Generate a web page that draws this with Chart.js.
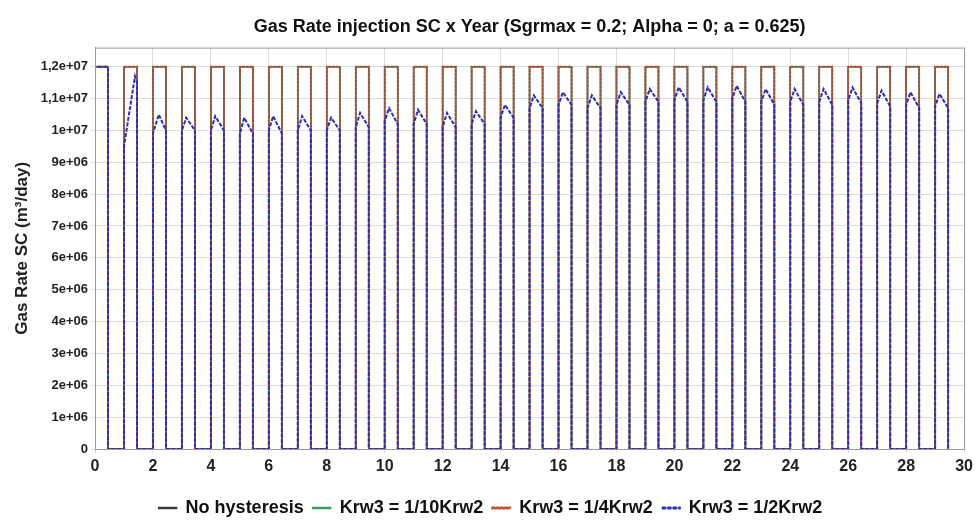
<!DOCTYPE html>
<html>
<head>
<meta charset="utf-8">
<script src="https://cdn.jsdelivr.net/npm/chart.js@4.4.1/dist/chart.umd.min.js"></script>
<style>
  html, body { margin: 0; padding: 0; background: #fff; }
  #wrap { width: 977px; height: 527px; }
</style>
</head>
<body>
<div id="wrap"><canvas id="gasChart" width="977" height="527"></canvas></div>
<script>
// Injection cycles (years): gas on at onYear, off at offYear
const onYear  = [0, 1, 2, 3, 4, 5, 6, 7, 8, 9, 10, 11, 12, 13, 14, 15, 16, 17, 18, 19, 20, 21, 22, 23, 24, 25, 26, 27, 28, 29];
const offYear = [0.45, 1.45, 2.45, 3.45, 4.45, 5.45, 6.45, 7.45, 8.45, 9.45, 10.45, 11.45, 12.45, 13.45, 14.45,
                 15.45, 16.45, 17.45, 18.45, 19.45, 20.45, 21.45, 22.45, 23.45, 24.45, 25.45, 26.45, 27.45, 28.45, 29.45];

// No hysteresis, 1/10 and 1/4 runs stay at the injection limit every cycle
const limitRate = [12e6, 12e6, 12e6, 12e6, 12e6, 12e6, 12e6, 12e6, 12e6, 12e6, 12e6, 12e6, 12e6, 12e6, 12e6,
                   12e6, 12e6, 12e6, 12e6, 12e6, 12e6, 12e6, 12e6, 12e6, 12e6, 12e6, 12e6, 12e6, 12e6, 12e6];

// Krw3 = 1/2Krw2: rate right after start, peak, and rate at shut-in
const halfStart = [12e6, 9.5e6, 9.9e6, 10.0e6, 10.0e6, 9.9e6, 10.0e6, 10.0e6, 10.0e6, 10.1e6, 10.3e6, 10.2e6, 10.1e6, 10.2e6, 10.4e6,
                   10.7e6, 10.8e6, 10.7e6, 10.8e6, 10.9e6, 10.95e6, 10.95e6, 11.0e6, 10.9e6, 10.9e6, 10.9e6, 10.95e6, 10.85e6, 10.8e6, 10.75e6];
const halfPeakYear = [0.2, 1.38, 2.2, 3.15, 4.15, 5.15, 6.15, 7.15, 8.15, 9.15, 10.15, 11.15, 12.15, 13.15, 14.15,
                      15.15, 16.15, 17.15, 18.15, 19.15, 20.15, 21.15, 22.15, 23.15, 24.15, 25.15, 26.15, 27.15, 28.15, 29.15];
const halfPeak  = [12e6, 11.7e6, 10.5e6, 10.4e6, 10.45e6, 10.4e6, 10.45e6, 10.45e6, 10.4e6, 10.55e6, 10.7e6, 10.65e6, 10.55e6, 10.6e6, 10.8e6,
                   11.1e6, 11.2e6, 11.1e6, 11.2e6, 11.3e6, 11.35e6, 11.35e6, 11.4e6, 11.3e6, 11.3e6, 11.3e6, 11.35e6, 11.25e6, 11.2e6, 11.15e6];
const halfEnd   = [12e6, 11.5e6, 10.0e6, 10.0e6, 10.0e6, 9.9e6, 9.9e6, 10.0e6, 10.0e6, 10.1e6, 10.2e6, 10.2e6, 10.1e6, 10.2e6, 10.4e6,
                   10.7e6, 10.8e6, 10.7e6, 10.8e6, 10.9e6, 10.9e6, 10.9e6, 10.9e6, 10.8e6, 10.8e6, 10.8e6, 10.85e6, 10.75e6, 10.7e6, 10.7e6];

const seriesNames = ['No hysteresis', 'Krw3 = 1/10Krw2', 'Krw3 = 1/4Krw2', 'Krw3 = 1/2Krw2'];

// Axis ticks
const xTickValues = [0, 2, 4, 6, 8, 10, 12, 14, 16, 18, 20, 22, 24, 26, 28, 30];
const yTickValues = [0, 1e6, 2e6, 3e6, 4e6, 5e6, 6e6, 7e6, 8e6, 9e6, 10e6, 11e6, 12e6];
const yTickLabels = ['0', '1e+06', '2e+06', '3e+06', '4e+06', '5e+06', '6e+06', '7e+06', '8e+06', '9e+06', '1e+07', '1,1e+07', '1,2e+07'];

// square pulse per cycle
function squareWave(rates) {
    const pts = [];
    onYear.forEach((t, i) => {
        pts.push({ x: t, y: 0 }, { x: t, y: rates[i] }, { x: offYear[i], y: rates[i] }, { x: offYear[i], y: 0 });
    });
    return pts;
}

// pulse with rise / decline shape
function humpWave() {
    const pts = [];
    onYear.forEach((t, i) => {
        pts.push({ x: t, y: 0 }, { x: t, y: halfStart[i] }, { x: halfPeakYear[i], y: halfPeak[i] },
                 { x: offYear[i], y: halfEnd[i] }, { x: offYear[i], y: 0 });
    });
    return pts;
}

const frameBox = {
    id: 'frameBox',
    afterDatasetsDraw(chart) {
        const a = chart.chartArea, ctx = chart.ctx;
        ctx.save();
        ctx.strokeStyle = '#9a9a9a';
        ctx.lineWidth = 1;
        ctx.strokeRect(a.left + 0.5, a.top + 0.5, a.right - a.left, a.bottom - a.top);
        ctx.restore();
    }
};

const font = 'Liberation Sans, Arial, sans-serif';

new Chart(document.getElementById('gasChart'), {
    type: 'line',
    data: {
        datasets: [
            { label: seriesNames[0], data: squareWave(limitRate), order: 3, borderColor: '#3a3a3a', backgroundColor: '#3a3a3a', borderWidth: 1.5, pointRadius: 0 },
            { label: seriesNames[1], data: squareWave(limitRate), order: 2, borderColor: '#3f9a6a', backgroundColor: '#3f9a6a', borderWidth: 1.5, pointRadius: 0 },
            { label: seriesNames[2], data: squareWave(limitRate), order: 1, borderColor: '#b8452e', backgroundColor: '#b8452e', borderWidth: 1.8, borderDash: [3, 1], pointRadius: 0 },
            { label: seriesNames[3], data: humpWave(), order: 0, borderColor: '#2c2cb4', backgroundColor: '#2c2cb4', borderWidth: 2, borderDash: [4, 1.5], pointRadius: 0 }
        ]
    },
    options: {
        responsive: false,
        animation: false,
        layout: { padding: { left: 12, right: 8, top: 0, bottom: 0 } },
        plugins: {
            title: {
                display: true,
                fullSize: false,
                text: 'Gas Rate injection SC x Year (Sgrmax = 0.2; Alpha = 0; a = 0.625)',
                color: '#111',
                font: { family: font, size: 18, weight: 'bold' },
                padding: { top: 16, bottom: 10 }
            },
            legend: {
                position: 'bottom',
                labels: {
                    color: '#111',
                    font: { family: font, size: 18, weight: 'bold' },
                    boxWidth: 18,
                    boxHeight: 1,
                    padding: 9,
                    sort: (a, b) => a.datasetIndex - b.datasetIndex
                }
            },
            tooltip: { enabled: false }
        },
        scales: {
            x: {
                type: 'linear',
                min: 0,
                max: 30,
                afterBuildTicks: axis => { axis.ticks = xTickValues.map(v => ({ value: v })); },
                afterFit: axis => { axis.height = 41; },
                grid: { color: '#dcdcdc', drawTicks: true, tickLength: 4 },
                border: { color: '#9a9a9a' },
                ticks: { color: '#222', font: { family: font, size: 16, weight: 'bold' }, maxRotation: 0, padding: 4 }
            },
            y: {
                min: 0,
                max: 12.6e6,
                afterBuildTicks: axis => { axis.ticks = yTickValues.map(v => ({ value: v })); },
                afterFit: axis => { axis.width = 83; },
                grid: { color: '#dcdcdc', drawTicks: true, tickLength: 4 },
                border: { color: '#9a9a9a' },
                title: {
                    display: true,
                    text: 'Gas Rate SC (m³/day)',
                    color: '#222',
                    font: { family: font, size: 17, weight: 'bold' },
                    padding: { top: 0, bottom: 4 }
                },
                ticks: {
                    color: '#222',
                    font: { family: font, size: 13, weight: 'bold' },
                    padding: 3,
                    callback: v => yTickLabels[yTickValues.indexOf(v)]
                }
            }
        }
    },
    plugins: [frameBox]
});
</script>
</body>
</html>
